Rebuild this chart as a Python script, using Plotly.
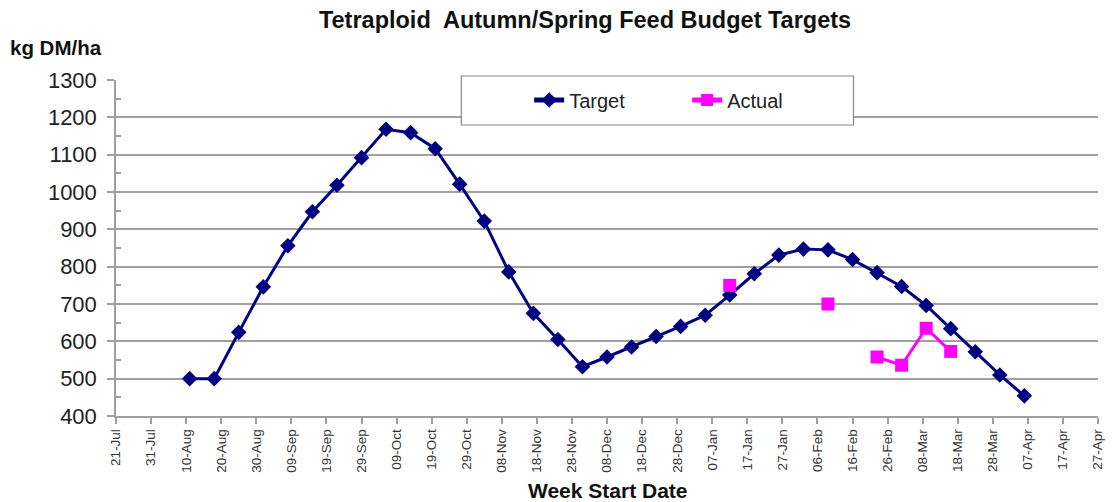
import plotly.graph_objects as go

# ---- data ----
week_dates = [
    "2009-08-11", "2009-08-18", "2009-08-25", "2009-09-01",
    "2009-09-08", "2009-09-15", "2009-09-22", "2009-09-29",
    "2009-10-06", "2009-10-13", "2009-10-20", "2009-10-27",
    "2009-11-03", "2009-11-10", "2009-11-17", "2009-11-24", "2009-12-01",
    "2009-12-08", "2009-12-15", "2009-12-22", "2009-12-29",
    "2010-01-05", "2010-01-12", "2010-01-19", "2010-01-26",
    "2010-02-02", "2010-02-09", "2010-02-16", "2010-02-23",
    "2010-03-02", "2010-03-09", "2010-03-16", "2010-03-23", "2010-03-30",
    "2010-04-06",
]
target_values = [
    500, 500, 624, 746,
    856, 947, 1018, 1092,
    1168, 1159, 1116, 1021,
    922, 786, 675, 605, 532,
    558, 585, 613, 640,
    670, 724, 781, 831,
    847, 845, 819, 784,
    747, 696, 634, 572, 510,
    454,
]
actual_dates = ["2010-01-12", "2010-01-26", "2010-02-09", "2010-02-16",
                "2010-02-23", "2010-03-02", "2010-03-09", "2010-03-16"]
actual_values = [750, None, 700, None, 558, 536, 635, 573]

tick_dates = [
    "2009-07-21", "2009-07-31", "2009-08-10", "2009-08-20", "2009-08-30",
    "2009-09-09", "2009-09-19", "2009-09-29", "2009-10-09", "2009-10-19",
    "2009-10-29", "2009-11-08", "2009-11-18", "2009-11-28", "2009-12-08",
    "2009-12-18", "2009-12-28", "2010-01-07", "2010-01-17", "2010-01-27",
    "2010-02-06", "2010-02-16", "2010-02-26", "2010-03-08", "2010-03-18",
    "2010-03-28", "2010-04-07", "2010-04-17", "2010-04-27",
]
tick_labels = [
    "21-Jul", "31-Jul", "10-Aug", "20-Aug", "30-Aug",
    "09-Sep", "19-Sep", "29-Sep", "09-Oct", "19-Oct",
    "29-Oct", "08-Nov", "18-Nov", "28-Nov", "08-Dec",
    "18-Dec", "28-Dec", "07-Jan", "17-Jan", "27-Jan",
    "06-Feb", "16-Feb", "26-Feb", "08-Mar", "18-Mar",
    "28-Mar", "07-Apr", "17-Apr", "27-Apr",
]
y_ticks = [400, 500, 600, 700, 800, 900, 1000, 1100, 1200, 1300]
y_minor_ticks = [450, 550, 650, 750, 850, 950, 1050, 1150, 1250]

# ---- layout geometry (pixels) ----
W, H = 1117, 502
L, R, T, B = 116, 1100, 80, 416


def xp(px):
    return (px - L) / (R - L)


def yp(py):
    return (B - py) / (B - T)


FONT = "Liberation Sans, Arial, sans-serif"
NAVY = "#000080"
MAGENTA = "#FF00FF"
GRID = "#a0a0a0"

fig = go.Figure()
fig.add_trace(go.Scatter(
    x=week_dates, y=target_values, name="Target", mode="lines+markers",
    line=dict(color=NAVY, width=3),
    marker=dict(symbol="diamond", size=12, color=NAVY),
))
fig.add_trace(go.Scatter(
    x=actual_dates, y=actual_values, name="Actual", mode="lines+markers",
    line=dict(color=MAGENTA, width=3),
    marker=dict(symbol="square", size=13, color=MAGENTA),
    connectgaps=False,
))

fig.update_layout(
    width=W, height=H,
    margin=dict(l=L, r=W - R, t=T, b=H - B, pad=0),
    paper_bgcolor="white", plot_bgcolor="white",
    font=dict(family=FONT, color="#222"),
    showlegend=True,
    title=dict(
        text="<b>Tetraploid  Autumn/Spring Feed Budget Targets</b>",
        x=xp(586), xanchor="center", xref="paper",
        y=1 - 20 / H, yanchor="middle", yref="container",
        font=dict(size=23.5, color="#111"),
    ),
    legend=dict(
        orientation="h", x=xp(530), y=yp(100), xanchor="left", yanchor="middle",
        bgcolor="rgba(0,0,0,0)", borderwidth=0,
        font=dict(size=20, color="#222"),
        entrywidth=113, entrywidthmode="pixels", itemwidth=30,
        itemsizing="constant",
    ),
    xaxis=dict(
        type="date", range=["2009-07-21", "2010-04-27"],
        tickmode="array", tickvals=tick_dates, ticktext=tick_labels,
        tickangle=-90, tickfont=dict(size=13.5, color="#333"),
        ticks="outside", ticklen=6, tickcolor=GRID, tickwidth=1.5,
        showgrid=False, zeroline=False,
        showline=True, linecolor=GRID, linewidth=1.5,
    ),
    yaxis=dict(
        range=[400, 1300], tickmode="array", tickvals=y_ticks,
        tickfont=dict(size=22, color="#222"), ticklabelstandoff=6,
        ticks="outside", ticklen=7, tickcolor=GRID, tickwidth=1.5,
        showgrid=True, gridcolor=GRID, gridwidth=1.5,
        zeroline=False, showline=True, linecolor=GRID, linewidth=1.5,
        minor=dict(tickmode="array", tickvals=y_minor_ticks,
                   ticks="inside", ticklen=5, tickcolor=GRID, tickwidth=1.5, showgrid=False),
    ),
    shapes=[dict(
        type="rect", xref="paper", yref="paper",
        x0=xp(462), x1=xp(855), y0=yp(125), y1=yp(76),
        fillcolor="white", line=dict(color="#888", width=1.2), layer="above",
    )],
    annotations=[
        dict(text="<b>kg DM/ha</b>", xref="paper", yref="paper",
             x=xp(8), y=yp(48), xanchor="left", yanchor="middle",
             showarrow=False, font=dict(size=20.5, color="#111")),
        dict(text="<b>Week Start Date</b>", xref="paper", yref="paper",
             x=xp(609), y=yp(490), xanchor="center", yanchor="middle",
             showarrow=False, font=dict(size=21, color="#111")),
    ],
)

fig.write_html("out.html", config={"displayModeBar": False},
               post_script="document.body.style.margin='0';")
